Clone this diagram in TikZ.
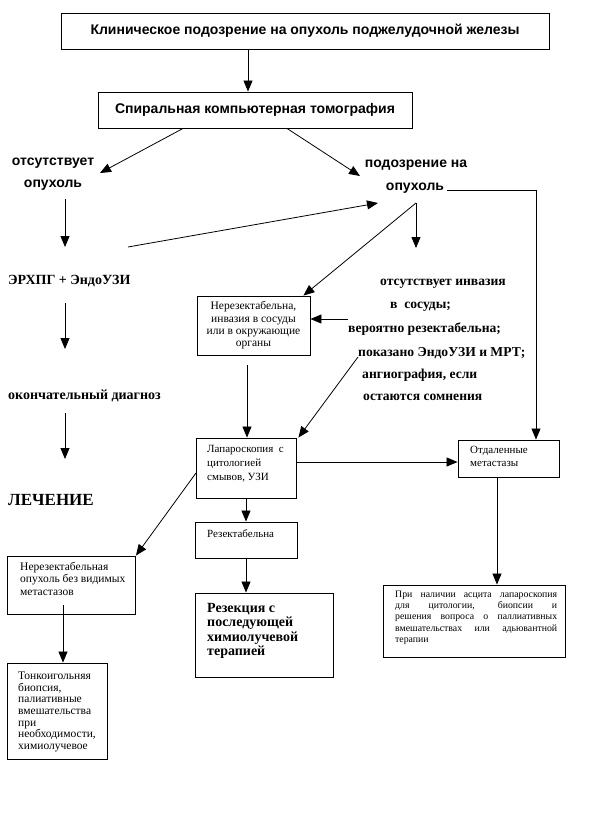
\documentclass[tikz,border=0pt]{standalone}
\usepackage{fontspec}
\setmainfont{Liberation Serif}
\setsansfont{Liberation Sans}
\usetikzlibrary{arrows.meta,calc}
\begin{document}
\begin{tikzpicture}[x=1pt,y=-1pt,
  arr/.style={line width=0.8pt,-{Triangle[length=11pt,width=9pt]}},
  ln/.style={line width=0.8pt},
  box/.style={draw,line width=0.9pt,rectangle,inner sep=0pt},
  stt/.style={font=\sffamily\bfseries\fontsize{14}{16}\selectfont,inner sep=0pt},
  sbt/.style={font=\bfseries\fontsize{14}{16}\selectfont,inner sep=0pt,anchor=west},
  ibt/.style={font=\bfseries\fontsize{13.6}{16}\selectfont,inner sep=0pt,anchor=west},
  bt/.style={font=\fontsize{11}{12.3}\selectfont,inner sep=0pt,align=left,anchor=north west},
]
\useasboundingbox (0,0) rectangle (593,822);

% top boxes
\node[box,minimum width=488pt,minimum height=36pt,stt] (top) at (305,31) {Клиническое подозрение на опухоль поджелудочной железы};
\node[box,minimum width=314pt,minimum height=36pt,stt] (ct) at (255,110) {Спиральная компьютерная томография};

% sans texts
\node[stt] (no1) at (53,163) {отсутствует};
\node[stt] (no2) at (53,185) {опухоль};
\node[stt] (su1) at (416,165) {подозрение на};
\node[stt] (su2) at (415,188) {опухоль};

% left column
\node[sbt] (ercp) at (8,281) {ЭРХПГ + ЭндоУЗИ};
\node[sbt] (diag) at (8,396) {окончательный диагноз};
\node[font=\bfseries\fontsize{17}{20}\selectfont,inner sep=0pt,anchor=west] (treat) at (8,500) {ЛЕЧЕНИЕ};

% right text block
\node[ibt] (inv1) at (380,284) {отсутствует инвазия};
\node[ibt] (inv2) at (390,307) {в\ \ сосуды;};
\node[ibt] (inv3) at (348,329) {вероятно резектабельна;};
\node[ibt] (inv4) at (358,353) {показано ЭндоУЗИ и МРТ;};
\node[ibt] (inv5) at (362,375) {ангиография, если};
\node[ibt] (inv6) at (363,397) {остаются сомнения};

% boxes
\node[box,minimum width=113pt,minimum height=59pt,font=\fontsize{11.5}{12.3}\selectfont,align=center] (nr) at (253.5,325.5) {Нерезектабельна,\\инвазия в сосуды\\или в окружающие\\органы};

\node[box,minimum width=100pt,minimum height=60pt] (lap) at (246,468) {};
\node[bt,font=\fontsize{11}{14}\selectfont] (lapt) at (207,445) {Лапароскопия\ \ с\\цитологией\\смывов, УЗИ};

\node[box,minimum width=101pt,minimum height=37pt] (ot) at (508.5,458.5) {};
\node[bt,font=\fontsize{11}{13.5}\selectfont] (ott) at (470,446) {Отдаленные\\метастазы};

\node[box,minimum width=182pt,minimum height=72pt] (asc) at (474,621) {};
\node[font=\fontsize{9.8}{11.3}\selectfont,inner sep=0pt,align=left,anchor=north west] (asct) at (395,590.5) {\makebox[162pt][s]{При наличии асцита лапароскопия}\\\makebox[162pt][s]{для цитологии, биопсии и}\\\makebox[162pt][s]{решения вопроса о паллиативных}\\\makebox[162pt][s]{вмешательствах или адьювантной}\\терапии};

\node[box,minimum width=102pt,minimum height=36pt] (res) at (246,540) {};
\node[bt] (rest) at (207,529) {Резектабельна};

\node[box,minimum width=138pt,minimum height=84pt] (rez) at (264,635) {};
\node[font=\bfseries\fontsize{14}{14.5}\selectfont,inner sep=0pt,align=left,anchor=north west] (rezt) at (207,603) {Резекция с\\последующей\\химиолучевой\\терапией};

\node[box,minimum width=128pt,minimum height=58pt] (nro) at (71.5,585) {};
\node[bt,font=\fontsize{11.5}{12.5}\selectfont] (nrot) at (20,562) {Нерезектабельная\\опухоль без видимых\\метастазов};

\node[box,minimum width=100pt,minimum height=96pt] (fna) at (57,711) {};
\node[bt,font=\fontsize{11.5}{11.6}\selectfont] (fnat) at (18,672) {Тонкоигольняя\\биопсия,\\палиативные\\вмешательства\\при\\необходимости,\\химиолучевое};

% coordinates for free ends
\coordinate (p1) at (100,173);
\coordinate (p2) at (360,176);
\coordinate (r0) at (447,190);
\coordinate (r1) at (536,190);
\coordinate (apex) at (416,203);
\coordinate (apexb) at (416,248);
\coordinate (l0) at (128,247);
\coordinate (l1) at (378,203);
\coordinate (c1a) at (65,199);
\coordinate (c1b) at (65,247);
\coordinate (c2a) at (65,303);
\coordinate (c2b) at (65,349);
\coordinate (c3a) at (65,413);
\coordinate (c3b) at (65,459);
\coordinate (invL) at (348,319);
\coordinate (invD) at (358,357);
\coordinate (nrb) at (247,365);
\coordinate (le) at (296,462);
\coordinate (ob) at (497,477);
\coordinate (lw) at (196,473);
\coordinate (nb) at (63,605);

% connectors
\draw[arr] ([xshift=-57pt]top.south) -- ([xshift=-57pt]top.south |- ct.north);
\draw[arr] ([xshift=-72pt]ct.south) -- (p1);
\draw[arr] ([xshift=32pt]ct.south) -- (p2);
\draw[arr] (r0) -- (r1) -- (r1 |- ot.north);
\draw[arr] (apex) -- (apexb);
\draw[arr] (apex) -- ([xshift=-7pt]nr.north east);
\draw[arr] (l0) -- (l1);
\draw[arr] (c1a) -- (c1b);
\draw[arr] (c2a) -- (c2b);
\draw[arr] (c3a) -- (c3b);
\draw[arr] (invL) -- (invL -| nr.east);
\draw[arr] (invD) -- ([xshift=2pt]lap.north east);
\draw[arr] (nrb) -- (nrb |- lap.north);
\draw[arr] (le) -- (le -| ot.west);
\draw[arr] (ob) -- (ob |- asc.north);
\draw[arr] (lap.south) -- (res.north);
\draw[arr] (res.south) -- (res.south |- rez.north);
\draw[arr] (lw) -- (nro.north east);
\draw[arr] (nb) -- (nb |- fna.north);
\end{tikzpicture}
\end{document}
